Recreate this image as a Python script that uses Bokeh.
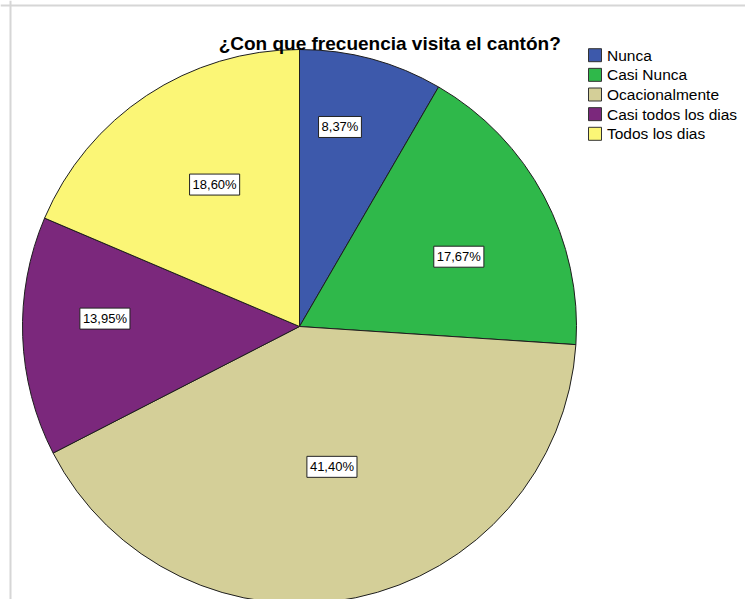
import math
from bokeh.plotting import figure
from bokeh.models import ColumnDataSource, Range1d, Label, Span
from bokeh.core.properties import value
from bokeh.embed import file_html
from bokeh.resources import INLINE

# ---- data ----
title_text = "¿Con que frecuencia visita el cantón?"
categories = ["Nunca", "Casi Nunca", "Ocacionalmente", "Casi todos los dias", "Todos los dias"]
percentages = [8.37, 17.67, 41.40, 13.95, 18.60]
colors = ["#3D59AB", "#2FB84A", "#D4CF98", "#7B287C", "#FBF676"]

# ---- layout / style ----
W, H = 745, 599
CX, CY, R = 299, H - 326, 277
FONT = "Liberation Sans"
label_frac = [0.735, 0.628, 0.52, 0.703, 0.597]
label_nudge_deg = [-3.6, 4.4, -1.3, 4.4, 2.6]

total = sum(percentages)
starts, ends, lx, ly, ltext = [], [], [], [], []
cum = 0.0
for i, v in enumerate(percentages):
    f0 = cum / total
    cum += v
    f1 = cum / total
    starts.append(math.pi / 2 - 2 * math.pi * f0)
    ends.append(math.pi / 2 - 2 * math.pi * f1)
    mid = math.radians(360 * (f0 + f1) / 2 + label_nudge_deg[i])
    r = R * label_frac[i]
    lx.append(CX + r * math.sin(mid))
    ly.append(CY + r * math.cos(mid))
    ltext.append(f"{v:.2f}".replace(".", ",") + "%")

n = len(categories)
src = ColumnDataSource(dict(cat=categories, val=percentages, color=colors,
                            start=starts, end=ends, lx=lx, ly=ly, ltext=ltext,
                            gx=[594.5] * n,
                            gy=[H - (54.7 + 19.65 * i) for i in range(n)],
                            tx=[606.5] * n))

p = figure(width=W, height=H, x_range=Range1d(0, W), y_range=Range1d(0, H),
           output_backend="svg", toolbar_location=None,
           x_axis_type=None, y_axis_type=None, min_border=0)
p.grid.visible = False
p.outline_line_color = None
p.background_fill_color = "white"
p.border_fill_color = "white"

# frame lines (left, top)
p.add_layout(Span(location=10, dimension="height", line_color="#d6d6d6", line_width=2))
p.add_layout(Span(location=H - 5, dimension="width", line_color="#d6d6d6", line_width=2))

p.wedge(x=CX, y=CY, radius=R, start_angle="start", end_angle="end", direction="clock",
        fill_color="color", line_color="#1e1e1e", line_width=1, source=src)

p.text(x="lx", y="ly", text="ltext", source=src, text_align="center", text_baseline="middle",
       text_font=value(FONT), text_font_size="13px", text_color="black",
       background_fill_color="white", border_line_color="#222222", border_line_width=1,
       padding=3)

# legend
p.rect(x="gx", y="gy", width=13, height=13, width_units="screen", height_units="screen",
       fill_color="color", line_color="#333333", line_width=1, source=src)
p.text(x="tx", y="gy", text="cat", source=src, text_align="left", text_baseline="middle",
       text_font=value(FONT), text_font_size="15.5px", text_color="black")

p.add_layout(Label(x=389.2, y=H - 43.3, text=title_text, text_align="center",
                   text_baseline="alphabetic", text_font=FONT, text_font_size="19px",
                   text_font_style="bold", text_color="black"))

open("out.html", "w").write(file_html(p, INLINE))
